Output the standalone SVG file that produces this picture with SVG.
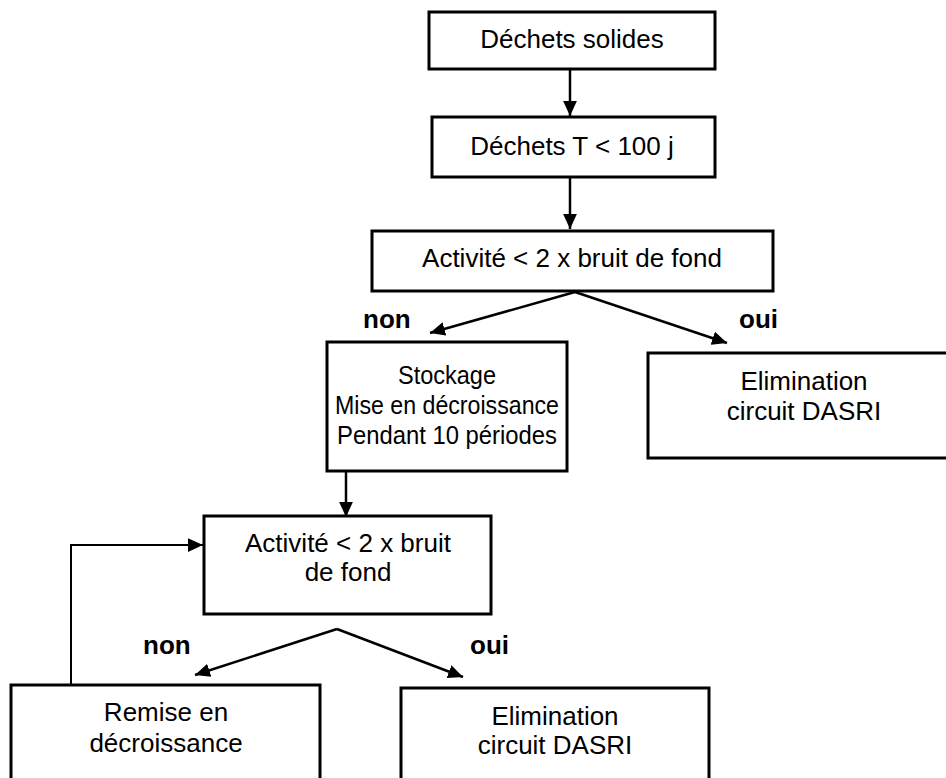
<svg xmlns="http://www.w3.org/2000/svg" width="946" height="778" viewBox="0 0 946 778">
<style>
.box{fill:#fff;stroke:#000;stroke-width:3}
.t{font-family:"Liberation Sans",Arial,sans-serif;font-size:26px;fill:#000;text-anchor:middle}
.big{font-size:25px}
.lbl{font-family:"Liberation Sans",Arial,sans-serif;font-size:26px;font-weight:bold;fill:#000}
.c{fill:none;stroke:#000;stroke-width:2.5}
.thin{fill:none;stroke:#000;stroke-width:2}
</style>
<defs>
<marker id="ah" viewBox="0 0 12 11" refX="12" refY="5.5" markerWidth="15" markerHeight="14" markerUnits="userSpaceOnUse" orient="auto">
<path d="M0,0 L12,5.5 L0,11 z" fill="#000"/>
</marker>
</defs>
<rect width="946" height="778" fill="#fff"/>
<g id="connectors">
<line class="c" x1="570" y1="69" x2="570" y2="116" marker-end="url(#ah)"/>
<line class="c" x1="570" y1="177" x2="570" y2="229" marker-end="url(#ah)"/>
<line class="c" x1="575" y1="292" x2="430" y2="333" marker-end="url(#ah)"/>
<line class="c" x1="575" y1="292" x2="727" y2="343" marker-end="url(#ah)"/>
<line class="c" x1="346" y1="471" x2="346" y2="517" marker-end="url(#ah)"/>
<line class="c" x1="337" y1="629" x2="195" y2="675" marker-end="url(#ah)"/>
<line class="c" x1="337" y1="629" x2="463" y2="677" marker-end="url(#ah)"/>
<polyline class="thin" points="71,685 71,545 203,545" marker-end="url(#ah)"/>
</g>
<g id="n1"><rect class="box" x="429" y="12" width="286" height="57"/><text class="t" x="572" y="48">Déchets solides</text></g>
<g id="n2"><rect class="box" x="432" y="117" width="283" height="60"/><text class="t" x="572" y="155">Déchets T &lt; 100 j</text></g>
<g id="n3"><rect class="box" x="372" y="231" width="401" height="60"/><text class="t" x="572" y="267">Activité &lt; 2 x bruit de fond</text></g>
<g id="n4"><rect class="box" x="327" y="342" width="240" height="129"/><text class="t big" x="447" y="384" textLength="98" lengthAdjust="spacingAndGlyphs">Stockage</text><text class="t big" x="447" y="414" textLength="224" lengthAdjust="spacingAndGlyphs">Mise en décroissance</text><text class="t big" x="447" y="444" textLength="220" lengthAdjust="spacingAndGlyphs">Pendant 10 périodes</text></g>
<g id="n5"><rect class="box" x="648" y="353" width="300" height="105"/><text class="t" x="804" y="390">Elimination</text><text class="t" x="804" y="420">circuit DASRI</text></g>
<g id="n6"><rect class="box" x="204" y="516" width="287" height="98"/><text class="t" x="348" y="552">Activité &lt; 2 x bruit</text><text class="t" x="348" y="581">de fond</text></g>
<g id="n7"><rect class="box" x="11" y="685" width="309" height="100"/><text class="t" x="166" y="721">Remise en</text><text class="t" x="166" y="752">décroissance</text></g>
<g id="n8"><rect class="box" x="401" y="688" width="308" height="100"/><text class="t" x="555" y="725">Elimination</text><text class="t" x="555" y="754">circuit DASRI</text></g>
<text class="lbl" x="363" y="328">non</text>
<text class="lbl" x="739" y="328">oui</text>
<text class="lbl" x="143" y="654">non</text>
<text class="lbl" x="470" y="654">oui</text>
</svg>
